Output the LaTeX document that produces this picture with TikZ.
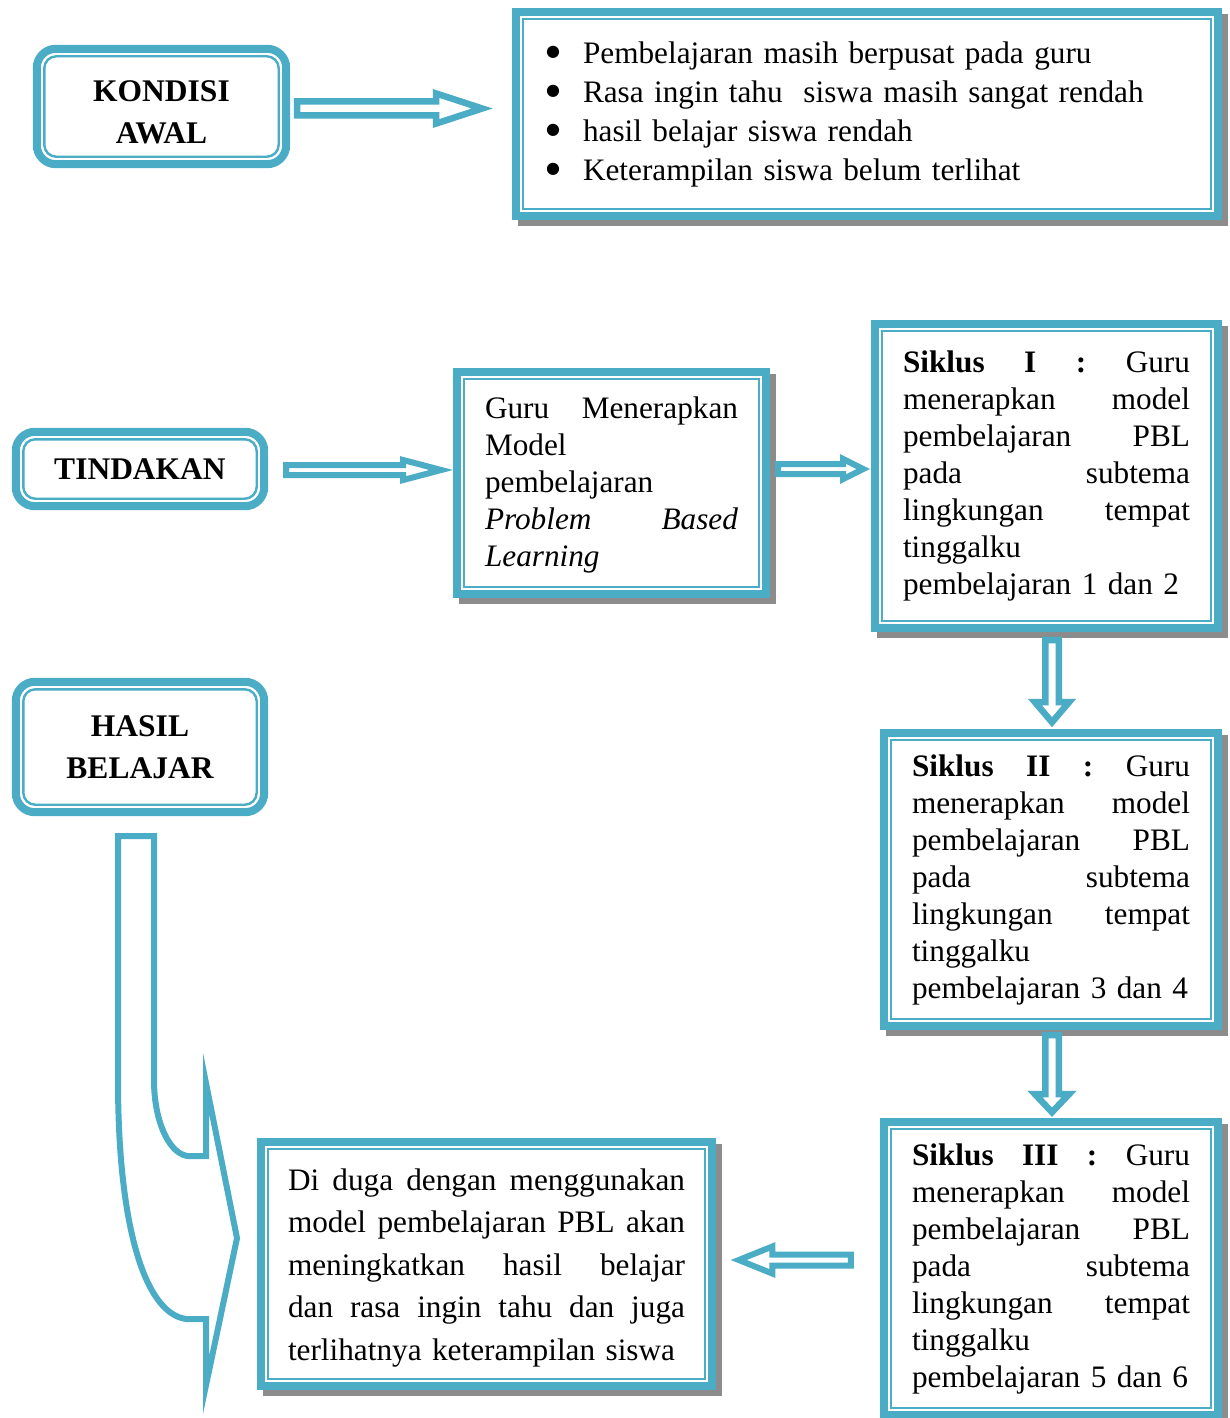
\documentclass[tikz,border=0pt]{standalone}
\usepackage{fontspec}
\setmainfont{Liberation Serif}
\newfontfamily\symfont{DejaVu Sans}
\usetikzlibrary{backgrounds,calc}
\definecolor{accentc}{HTML}{4BACC6}
\definecolor{shadowc}{HTML}{8C8C8C}
\newcommand\sqframe[1]{%
  \begin{scope}[on background layer]
    \fill[shadowc] ([shift={(6,6)}]#1.north west) rectangle ([shift={(6,6)}]#1.south east);
  \end{scope}
  \draw[accentc, line width=8pt] ([shift={(4,4)}]#1.north west) rectangle ([shift={(-4,-4)}]#1.south east);
  \draw[accentc, line width=2.2pt] ([shift={(11.5,11.5)}]#1.north west) rectangle ([shift={(-11.5,-11.5)}]#1.south east);}
\newcommand\rframe[1]{%
  \draw[accentc, line width=8pt, rounded corners=19pt] ([shift={(4,4)}]#1.north west) rectangle ([shift={(-4,-4)}]#1.south east);
  \draw[accentc, line width=2.4pt, rounded corners=12pt] ([shift={(11.5,11.5)}]#1.north west) rectangle ([shift={(-11.5,-11.5)}]#1.south east);}
% #1 start coordinate, #2 angle, #3 length to tip, #4 shaft half, #5 head half, #6 head length, #7 stroke
\newcommand\blockarrow[7]{%
  \draw[accentc, fill=white, line width=#7pt, miter limit=30, shift={(#1)}, rotate=#2]
    (0,-#4) -- ({#3-#6},-#4) -- ({#3-#6},-#5) -- (#3,0) -- ({#3-#6},#5) -- ({#3-#6},#4) -- (0,#4) -- cycle;}
\newcommand\bul{\makebox[37pt][l]{\raisebox{7pt}{\fontsize{16}{16}\symfont ●}}}
\begin{document}
\begin{tikzpicture}[x=1pt, y=-1pt,
  sqnode/.style={rectangle, fill=white, inner sep=0pt, align=left, font=\fontsize{31.25}{37}\selectfont},
  rnode/.style={rectangle, rounded corners=22pt, fill=white, inner sep=0pt, align=center, font=\fontsize{31.5}{42}\selectfont\bfseries}]
\useasboundingbox (0,0) rectangle (1229,1418);
\begin{scope}[on background layer]
  \fill[white] (0,0) rectangle (1229,1418);
\end{scope}

% KONDISI AWAL
\node[rnode, minimum width=257pt, minimum height=123pt, text height=73pt, text depth=0pt] (kondisi) at (161.5,106.5) {KONDISI\\AWAL};
\rframe{kondisi}
\node[sqnode, minimum width=710pt, minimum height=212pt, text width=642pt, font=\fontsize{31.25}{39}\selectfont] (awal) at (867,114)
 {\bul Pembelajaran masih berpusat pada guru\\
  \bul Rasa ingin tahu\ \ siswa masih sangat rendah\\
  \bul hasil belajar siswa rendah\\
  \bul Keterampilan siswa belum terlihat};
\sqframe{awal}

% TINDAKAN
\node[rnode, minimum width=256pt, minimum height=82pt] (tindakan) at (140,469) {TINDAKAN};
\rframe{tindakan}
\node[sqnode, minimum width=317pt, minimum height=230pt, text width=253pt, text height=26pt] (guru) at (611.5,483)
 {Guru\hfill Menerapkan\\
  Model\\
  pembelajaran\\
  \textit{Problem}\hfill\textit{Based}\\
  \textit{Learning}};
\sqframe{guru}

\node[sqnode, minimum width=351pt, minimum height=312pt, text width=287pt] (s1) at (1046.5,476)
 {\textbf{Siklus}\hfill\textbf{I}\hfill\textbf{:}\hfill Guru\\
  menerapkan\hfill model\\
  pembelajaran\hfill PBL\\
  pada\hfill subtema\\
  lingkungan\hfill tempat\\
  tinggalku\\
  pembelajaran~1~dan~2};
\sqframe{s1}

\node[sqnode, minimum width=342pt, minimum height=301pt, text width=278pt] (s2) at (1051,879.5)
 {\textbf{Siklus}\hfill\textbf{II}\hfill\textbf{:}\hfill Guru\\
  menerapkan\hfill model\\
  pembelajaran\hfill PBL\\
  pada\hfill subtema\\
  lingkungan\hfill tempat\\
  tinggalku\\
  pembelajaran~3~dan~4};
\sqframe{s2}

\node[sqnode, minimum width=342pt, minimum height=301pt, text width=278pt] (s3) at (1051,1268.5)
 {\textbf{Siklus}\hfill\textbf{III}\hfill\textbf{:}\hfill Guru\\
  menerapkan\hfill model\\
  pembelajaran\hfill PBL\\
  pada\hfill subtema\\
  lingkungan\hfill tempat\\
  tinggalku\\
  pembelajaran~5~dan~6};
\sqframe{s3}

% HASIL BELAJAR
\node[rnode, minimum width=256pt, minimum height=138pt] (hasil) at (140,747) {HASIL\\BELAJAR};
\rframe{hasil}
\node[sqnode, minimum width=459pt, minimum height=252pt, text width=397pt, text height=29pt, font=\fontsize{31.25}{42.5}\selectfont] (dugaan) at (486.5,1264)
 {Di\hfill duga\hfill dengan\hfill menggunakan\\
  model\hfill pembelajaran\hfill PBL\hfill akan\\
  meningkatkan\hfill hasil\hfill belajar\\
  dan\hfill rasa\hfill ingin\hfill tahu\hfill dan\hfill juga\\
  terlihatnya keterampilan siswa};
\sqframe{dugaan}

% connectors
\coordinate (a1) at ([shift={(7,2)}]kondisi.east);
\blockarrow{a1}{0}{185}{7}{15}{46}{6.5}
\coordinate (a2) at ([shift={(18,1)}]tindakan.east);
\blockarrow{a2}{0}{155}{5}{10}{38}{6}
\coordinate (a3) at ([shift={(8,-14)}]guru.east);
\blockarrow{a3}{0}{85}{5}{10}{20}{6}
\coordinate (a4) at ([shift={(5.5,8)}]s1.south);
\blockarrow{a4}{-90}{82}{6.75}{17}{20}{6.5}
\coordinate (a5) at ([shift={(1,5)}]s2.south);
\blockarrow{a5}{-90}{77}{6.75}{17}{18}{6.5}
\coordinate (a6) at ([shift={(-29,-8.5)}]s3.west);
\blockarrow{a6}{180}{112}{5.5}{13.5}{33.5}{6}

% curved arrow from HASIL BELAJAR
\coordinate (c0) at ([shift={(-4,19)}]hasil.south);
\draw[accentc, fill=white, line width=6pt, miter limit=30, shift={(c0)}]
  (-18,1) -- (18,1) -- (18,245) .. controls (18,287) and (34,321) .. (54,321) -- (70,321)
  -- (70,248) -- (101,403) -- (70,550) -- (70,484) -- (54,484)
  .. controls (12,484) and (-18,400) .. (-18,245) -- cycle;
\end{tikzpicture}
\end{document}
